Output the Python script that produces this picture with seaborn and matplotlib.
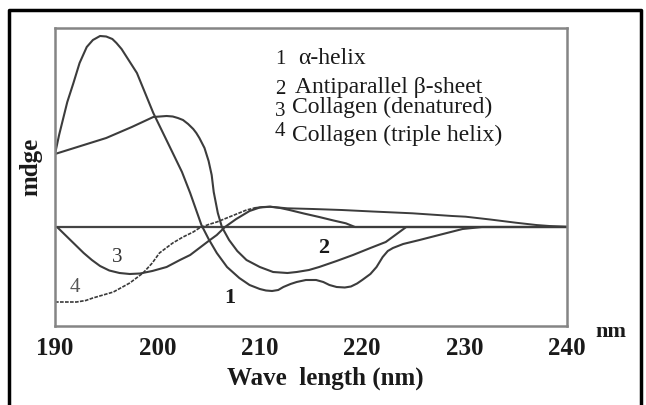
import matplotlib
matplotlib.use("Agg")
import matplotlib.pyplot as plt
from matplotlib.lines import Line2D
import seaborn as sns
import pandas as pd

sns.set_style("white")
plt.rcParams['font.family'] = ['Liberation Serif', 'DejaVu Serif']

# ---- data (arbitrary mdeg units) ----
alpha_x = [190, 190.4, 191.2, 191.8, 192.4, 193.1, 193.7, 194.4, 195.0, 195.6, 196.0, 196.5,
           197.0, 198.0, 199.6, 201.5, 202.4, 203.2, 204.3, 205.0, 205.8, 206.8, 208.0, 209.0,
           210.0, 210.6, 211.2, 211.8, 212.3, 213.0, 213.6, 214.5, 215.5, 216.2, 216.8, 217.5,
           218.3, 218.9, 219.5, 220.0, 220.8, 221.4, 222.0, 222.5, 223.0, 224.0, 225.6, 227.5,
           229.8, 231.7, 240]
alpha_y = [73, 92, 125, 144, 164, 180, 187, 191, 190.5, 188, 184, 178,
           170, 154, 114, 74, 55, 34, 2, -12, -26, -40, -51, -58,
           -62, -63.5, -64, -63, -60, -57, -55, -53, -53, -55, -58, -60,
           -60.5, -59.5, -56.5, -53, -47, -40, -30, -24, -21, -17, -13, -8,
           -2, 0, 0]

beta_x = [190, 192.5, 195.0, 197.5, 199.6, 200.9, 201.5, 202.0, 202.5, 203.0, 203.5, 203.8,
          204.1, 204.6, 205.0, 205.3, 205.5, 205.9, 206.3, 207.0, 207.8, 208.7, 210.0, 211.3,
          212.7, 213.6, 214.8, 215.8, 217.5, 219.1, 220.8, 222.3, 223.5, 224.3, 240]
beta_y = [73, 81, 89, 100, 110, 111, 110.5, 109, 107, 103, 98, 94,
          89, 79, 66, 52, 35, 14, 0, -13, -24, -33, -40, -45,
          -46, -45, -43, -40, -34, -28, -21, -15, -6, 0, 0]

denat_x = [190.2, 190.8, 191.5, 192.2, 192.8, 193.6, 194.4, 195.3, 196.3, 197.3, 198.3, 199.5,
           200.9, 202.2, 203.2, 204.1, 205.0, 205.8, 206.6, 207.7, 209.0, 210.0, 211.0, 212.0,
           212.9, 214.3, 215.8, 217.2, 218.4, 219.3, 240]
denat_y = [0, -6, -13, -20, -26, -33, -39, -43.5, -46, -47, -46.5, -44,
           -40, -33, -28, -21, -14, -8, 0, 8, 16, 19.5, 20.3, 19,
           17, 13.5, 10, 6.5, 3.7, 0, 0]

triple_x = [190, 192.1, 193.0, 193.7, 195.7, 197.3, 198.6, 199.5, 200.2, 201.5, 202.5, 203.5,
            204.1, 205.0, 205.8, 207.5, 208.7, 209.5, 210.3, 211.0, 212.7, 215.2, 218.0, 221.0,
            224.9, 228.8, 230.1, 232.5, 235.0, 237.0, 238.3, 240]
triple_y = [-75, -75, -73.5, -71, -65, -56, -46, -36, -26, -16, -10, -5,
            -1, 2.5, 5, 12, 17, 19, 20, 20.3, 18.7, 18, 17, 15.5,
            13.7, 11, 10.3, 7.5, 4.3, 2, 1, 0.3]

legend_nums = ["1", "2", "3", "4"]
legend_names = ["\u03b1-helix", "Antiparallel \u03b2-sheet", "Collagen (denatured)", "Collagen (triple helix)"]
xticks = [190, 200, 210, 220, 230, 240]

df = pd.concat([
    pd.DataFrame({"wl": alpha_x, "v": alpha_y, "s": "1"}),
    pd.DataFrame({"wl": beta_x, "v": beta_y, "s": "2"}),
    pd.DataFrame({"wl": denat_x, "v": denat_y, "s": "3"}),
])
# triple helix: dotted-looking rising part, solid tail after it merges
split = 18
df4a = pd.DataFrame({"wl": triple_x[:split], "v": triple_y[:split]})
df4b = pd.DataFrame({"wl": triple_x[split - 1:], "v": triple_y[split - 1:]})

W, H = 646, 405
fig = plt.figure(figsize=(W / 100, H / 100), dpi=100)
ax = fig.add_axes([55 / W, 1 - 326 / H, 512 / W, 298 / H])

line_col = "#3c3c3c"
for s, sub in df.groupby("s"):
    sns.lineplot(data=sub, x="wl", y="v", ax=ax, color=line_col, lw=1.5,
                 sort=False, estimator=None)
sns.lineplot(data=df4a, x="wl", y="v", ax=ax, color="#3a3a3a", lw=1.2,
             sort=False, estimator=None, linestyle=(0, (2.2, 0.8)))
sns.lineplot(data=df4b, x="wl", y="v", ax=ax, color=line_col, lw=1.4,
             sort=False, estimator=None)

ax.axhline(0, color="#444444", lw=1.6, zorder=1)

ax.set_xlim(190, 240)
ax.set_ylim(-99, 199)
ax.set_xticks(xticks)
ax.set_xticklabels([str(t) for t in xticks], fontsize=18, fontweight="bold", color="#1a1a1a")
ax.set_yticks([])
ax.tick_params(axis="x", direction="in", length=3, width=1, color="#777777", pad=8)
ax.set_xlabel("")
ax.set_ylabel("")
for sp in ax.spines.values():
    sp.set_visible(True)
    sp.set_color("#858585")
    sp.set_linewidth(1.8)

# curve number labels
ax.text(207.1, -71, "1", fontsize=16, fontweight="bold", ha="center", va="center", color="#1a1a1a")
ax.text(216.2, -21, "2", fontsize=16, fontweight="bold", ha="center", va="center", color="#1a1a1a")
ax.text(196.05, -30, "3", fontsize=15, ha="center", va="center", color="#333333")
ax.text(191.95, -61, "4", fontsize=15, ha="center", va="center", color="#555555")

# legend-like annotation
num_y = [167, 138, 116, 95]
name_x = [213.7, 213.4, 213.1, 213.1]
name_y = [169, 140, 120, 92]
for n, name, ny, tx, ty in zip(legend_nums, legend_names, num_y, name_x, name_y):
    ax.text(212.0, ny, n, fontsize=15, ha="center", va="center", color="#1a1a1a")
    ax.text(tx, ty, name, fontsize=17, ha="left", va="center", color="#1a1a1a")

fig.text(325 / W, 1 - 378 / H, "Wave  length (nm)", fontsize=18, fontweight="bold",
         ha="center", va="center", color="#1a1a1a")
fig.text(611 / W, 1 - 332 / H, "nm", fontsize=16, fontweight="bold",
         ha="center", va="center", color="#1a1a1a")
fig.text(31 / W, 1 - 167 / H, "mdge", fontsize=18, fontweight="bold", rotation=90,
         ha="center", va="center", color="#1a1a1a")

# outer frame (open at bottom)
fig.add_artist(Line2D([9 / W, 9 / W, 641 / W, 641 / W], [0, 1 - 10 / H, 1 - 10 / H, 0],
                      transform=fig.transFigure, color="black", lw=2.5))

fig.savefig("out.png", dpi=100)
